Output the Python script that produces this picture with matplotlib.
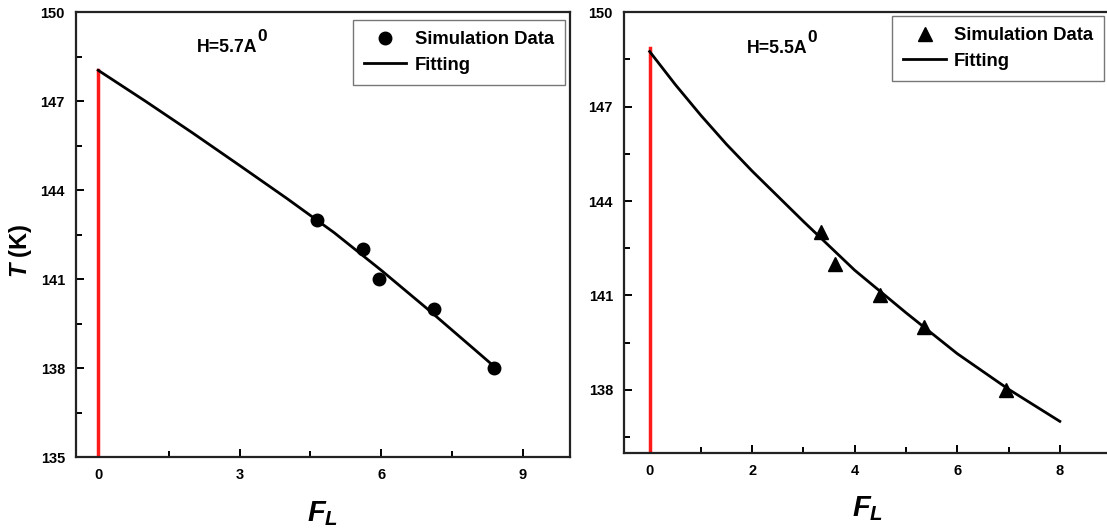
import matplotlib
matplotlib.use("Agg")
import matplotlib.pyplot as plt
from matplotlib.ticker import MultipleLocator

plt.rcParams['font.family'] = ['Liberation Sans', 'DejaVu Sans']
plt.rcParams['font.weight'] = 'bold'
plt.rcParams['mathtext.fontset'] = 'custom'
plt.rcParams['mathtext.rm'] = 'Liberation Sans:bold'
plt.rcParams['mathtext.bf'] = 'Liberation Sans:bold'
plt.rcParams['mathtext.it'] = 'Liberation Sans:italic:bold'

# ---- data: left panel (H = 5.7 A^0) ----
sim_x_left = [4.65, 5.62, 5.96, 7.12, 8.40]
sim_y_left = [143.0, 142.0, 141.0, 140.0, 138.0]
fit_x_left = [0, 1, 2, 3, 4, 5, 6, 7, 8, 8.4]
fit_y_left = [148.04, 147.0, 145.93, 144.83, 143.72, 142.57, 141.3, 139.97, 138.6, 138.05]

# ---- data: right panel (H = 5.5 A^0) ----
sim_x_right = [3.34, 3.62, 4.49, 5.35, 6.95]
sim_y_right = [143.0, 142.0, 141.0, 140.0, 138.0]
fit_x_right = [0, 0.5, 1, 1.5, 2, 3, 4, 5, 6, 7, 8]
fit_y_right = [148.75, 147.7, 146.72, 145.8, 144.95, 143.35, 141.8, 140.45, 139.15, 138.02, 137.0]

text_left = ("H=5.7A", "0")
text_right = ("H=5.5A", "0")
xticks_left = [0, 3, 6, 9]
yticks_left = [135, 138, 141, 144, 147, 150]
xticks_right = [0, 2, 4, 6, 8]
yticks_right = [138, 141, 144, 147, 150]

fig = plt.figure(figsize=(11.07, 5.29), dpi=100)
axL = fig.add_axes([0.0687, 0.136, 0.446, 0.841])
axR = fig.add_axes([0.5637, 0.144, 0.440, 0.833])

def style(ax):
    for s in ax.spines.values():
        s.set_linewidth(1.6)
        s.set_color('#222222')
    ax.tick_params(which='both', direction='in', top=False, right=False,
                   labelsize=10.5, width=1.4, pad=8)
    ax.tick_params(which='major', length=6)
    ax.tick_params(which='minor', length=4)
    for lab in ax.get_xticklabels() + ax.get_yticklabels():
        lab.set_fontweight('bold')

def htext(ax, x, y, parts):
    t = ax.text(x, y, parts[0], fontsize=12.7, fontweight='bold', va='center', ha='left')
    ax.annotate(parts[1], xy=(1.0, 0.72), xycoords=t, fontsize=12.5, fontweight='bold',
                va='bottom', ha='left')

def legend(ax, anchor):
    h, l = ax.get_legend_handles_labels()
    leg = ax.legend(h[::-1], l[::-1], loc='upper right', bbox_to_anchor=anchor,
                    borderaxespad=0, fancybox=False, framealpha=1, edgecolor='#777777',
                    numpoints=1, prop={'size': 13.3, 'weight': 'bold'}, handletextpad=0.45,
                    borderpad=0.6, handlelength=2.3, labelspacing=0.45)
    leg.get_frame().set_linewidth(1.0)

# Left panel
axL.plot([0, 0], [135, fit_y_left[0]], color='#ff1a1a', lw=2.5, zorder=2)
axL.plot(fit_x_left, fit_y_left, color='black', lw=2, label='Fitting', zorder=3)
axL.plot(sim_x_left, sim_y_left, 'o', color='black', ms=9, label='Simulation Data', zorder=4)
axL.set_xlim(-0.47, 10.0)
axL.set_ylim(135, 150)
axL.set_xticks(xticks_left)
axL.set_yticks(yticks_left)
axL.xaxis.set_minor_locator(MultipleLocator(1.5))
axL.yaxis.set_minor_locator(MultipleLocator(1.5))
style(axL)
htext(axL, 2.1, 148.8, text_left)
axL.set_xlabel("$F_L$", fontsize=21, labelpad=12)
axL.set_ylabel("$T$ (K)", fontsize=17, fontweight='bold')
axL.yaxis.set_label_coords(-0.085, 0.465)
legend(axL, (0.99, 0.982))

# Right panel
axR.plot([0, 0], [136, 148.85], color='#ff1a1a', lw=2.5, zorder=2)
axR.plot(fit_x_right, fit_y_right, color='black', lw=2, label='Fitting', zorder=3)
axR.plot(sim_x_right, sim_y_right, '^', color='black', ms=10, label='Simulation Data', zorder=4)
axR.set_xlim(-0.5, 9.0)
axR.set_ylim(136, 150)
axR.set_xticks(xticks_right)
axR.set_yticks(yticks_right)
axR.xaxis.set_minor_locator(MultipleLocator(1))
axR.set_yticks([136.5, 139.5, 142.5, 145.5, 148.5], minor=True)
style(axR)
htext(axR, 1.89, 148.83, text_right)
axR.set_xlabel("$F_L$", fontsize=21, labelpad=12)
legend(axR, (0.986, 0.991))

fig.savefig("out.png", dpi=100)
